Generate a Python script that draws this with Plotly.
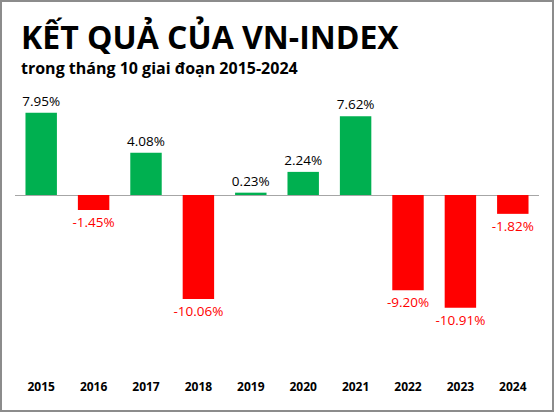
import plotly.graph_objects as go

years = ['2015', '2016', '2017', '2018', '2019', '2020', '2021', '2022', '2023', '2024']
returns = [7.95, -1.45, 4.08, -10.06, 0.23, 2.24, 7.62, -9.20, -10.91, -1.82]

GREEN = '#00b050'
RED = '#ff0000'

W, H = 555, 413
L, R, T, B = 15, 16, 102, 35
pw, ph = W - L - R, H - T - B


def px_x(x):
	return (x - L) / pw


def px_y(y):
	return (H - B - y) / ph


bar_colors = [GREEN if v >= 0 else RED for v in returns]
text_colors = ['#000000' if v >= 0 else RED for v in returns]

fig = go.Figure(go.Bar(
	x=years, y=returns,
	marker=dict(color=bar_colors, line=dict(width=0)),
	text=[f'{v:.2f}%' for v in returns],
	textposition='outside',
	constraintext='none',
	textfont=dict(color=text_colors, size=13.5, family='Open Sans'),
	cliponaxis=False,
	width=0.6,
	hoverinfo='skip',
))

fig.update_layout(
	width=W, height=H,
	margin=dict(l=L, r=R, t=T, b=B),
	plot_bgcolor='white', paper_bgcolor='white',
	showlegend=False,
	font=dict(family='Open Sans', color='#000000'),
	xaxis=dict(
		type='category', showline=False, showgrid=False, ticks='',
		tickfont=dict(size=12, family='Open Sans', weight='bold'),
	),
	yaxis=dict(
		range=[-17.7, 9.0], showticklabels=False, showgrid=False,
		zeroline=True, zerolinecolor='#a6a6a6', zerolinewidth=1,
	),
	annotations=[
		dict(text='<b>KẾT QUẢ CỦA VN-INDEX</b>', xref='paper', yref='paper',
			x=px_x(19), y=px_y(36), xanchor='left', yanchor='middle',
			showarrow=False, font=dict(size=32, family='Open Sans')),
		dict(text='<b>trong tháng 10 giai đoạn 2015-2024</b>', xref='paper', yref='paper',
			x=px_x(19), y=px_y(68), xanchor='left', yanchor='middle',
			showarrow=False, font=dict(size=16, family='Open Sans')),
	],
	shapes=[
		dict(type='rect', xref='paper', yref='paper',
			x0=px_x(1), x1=px_x(W - 2), y0=px_y(H - 2), y1=px_y(1),
			line=dict(color='#8c8c8c', width=2), layer='above'),
	],
)

fig.write_html('out.html', config={'displayModeBar': False},
	post_script="document.body.style.margin='0';")
